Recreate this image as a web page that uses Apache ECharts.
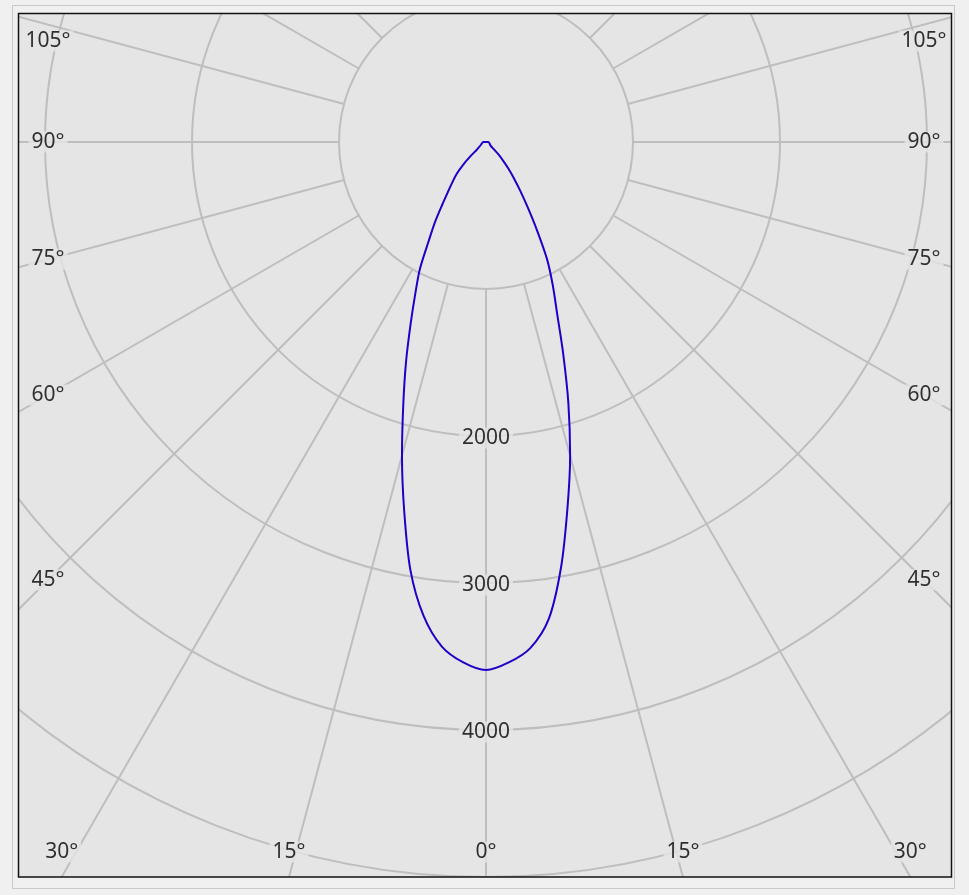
<!DOCTYPE html>
<html>
<head>
<meta charset="utf-8">
<script src="https://cdn.jsdelivr.net/npm/echarts@6/dist/echarts.min.js"></script>
<style>
  html, body { margin: 0; padding: 0; background: #f0f0f0; }
  #chart { width: 969px; height: 895px; }
</style>
</head>
<body>
<div id="chart"></div>
<script>
// ---- data ----
// gamma angles (deg from nadir)
const gammaAngles = [0, 2.5, 5, 7.5, 10, 12.5, 15, 17.5, 20, 22.5, 25, 27.5, 30, 32.5, 35, 37.5, 40, 42.5, 45, 47.5, 50, 55, 60, 70, 80, 90];
// intensity (cd) on the left half-plane
const leftIntensity = [3592, 3544, 3446, 3252, 2959, 2571, 2208, 1871, 1590, 1340, 1138, 973, 782, 646, 517, 422, 354, 299, 224, 143, 82, 54, 41, 31, 24, 20];
// intensity (cd) on the right half-plane
const rightIntensity = [3592, 3544, 3456, 3272, 2939, 2558, 2211, 1864, 1537, 1265, 1075, 900, 694, 530, 408, 313, 238, 170, 120, 70, 45, 35, 30, 25, 22, 20];
// tick labels
const angleTickLabels = [0, 15, 30, 45, 60, 75, 90, 105];
const radiusTickLabels = [2000, 3000, 4000];

// ---- layout ----
const W = 969, H = 895;
const CX = 486, CY = 142;
const R_MIN = 1000, R_MAX = 6000;
const PX0 = 147, PX1 = 882;
const PX_PER_UNIT = PX1 / R_MAX;
const BOX = { x0: 18, y0: 13, x1: 951, y1: 877 };
const LABEL_BAND = { bottomY: 852, topY: 41, sideDX: 438, minX: 53, maxX: 916 };
const PLOT_BG = '#e5e5e5';
const OUT_BG = '#f0f0f0';
const GRID = '#bebebe';
const FONT = 'Noto Sans';

// closed curve: right half (as 360 - gamma) from 90 to 0, left half from 0 to 90, back to the start
const curve = [];
for (let i = gammaAngles.length - 1; i >= 1; i--) curve.push([rightIntensity[i], 360 - gammaAngles[i]]);
for (let i = 0; i < gammaAngles.length; i++) curve.push([leftIntensity[i], gammaAngles[i]]);
curve.push(curve[0].slice());

// angle labels: near where each spoke leaves the frame, kept inside the label band
function labelPolar(a, side) {  // side: -1 left, +1 right
  const t = a * Math.PI / 180;
  let dx, dy;
  if (a <= 30) {
    dy = LABEL_BAND.bottomY - CY;
    const xAtFrame = CX + side * (BOX.y1 - CY) * Math.tan(t);
    dx = Math.min(LABEL_BAND.maxX, Math.max(LABEL_BAND.minX, xAtFrame)) - CX;
  } else {
    dx = side * LABEL_BAND.sideDX;
    dy = Math.max(LABEL_BAND.topY - CY, LABEL_BAND.sideDX / Math.tan(t));
  }
  const r = Math.hypot(dx, dy) / PX_PER_UNIT;
  let ang = Math.atan2(-dx, dy) * 180 / Math.PI;
  if (ang < 0) ang += 360;
  return [r, ang];
}
const angleLabelData = [];
angleTickLabels.forEach(a => {
  angleLabelData.push({ value: labelPolar(a, -1), name: a + '°' });
  if (a !== 0) angleLabelData.push({ value: labelPolar(a, 1), name: a + '°' });
});
const radiusLabelData = radiusTickLabels.map(v => ({ value: [v, 0], name: String(v) }));

const labelStyle = {
  show: true, position: 'inside', formatter: p => p.name,
  color: '#000', fontSize: 21, fontFamily: FONT,
  backgroundColor: PLOT_BG, padding: [0, 3]
};
const hidden = { axisLine: { show: false }, axisTick: { show: false }, axisLabel: { show: false } };

const chart = echarts.init(document.getElementById('chart'), null, { renderer: 'canvas', width: W, height: H });
chart.setOption({
  animation: false,
  backgroundColor: PLOT_BG,
  polar: [
    { center: [CX, CY], radius: [PX0, PX1] },   // grid (spokes start at the 1000 circle)
    { center: [CX, CY], radius: [0, PX1] }      // data
  ],
  angleAxis: [
    Object.assign({
      polarIndex: 0, type: 'value', min: 0, max: 360, interval: 15, startAngle: 270, clockwise: true,
      splitLine: { show: true, lineStyle: { color: GRID, width: 2 } }
    }, hidden),
    Object.assign({
      polarIndex: 1, type: 'value', min: 0, max: 360, interval: 15, startAngle: 270, clockwise: true,
      splitLine: { show: false }
    }, hidden)
  ],
  radiusAxis: [
    Object.assign({
      polarIndex: 0, type: 'value', min: R_MIN, max: R_MAX, interval: 1000,
      splitLine: { show: true, lineStyle: { color: GRID, width: 2 } }
    }, hidden),
    Object.assign({
      polarIndex: 1, type: 'value', min: 0, max: R_MAX, interval: 1000,
      splitLine: { show: false }
    }, hidden)
  ],
  series: [
    {
      type: 'line', coordinateSystem: 'polar', polarIndex: 1, data: curve, clip: false,
      showSymbol: false, smooth: 0.3, z: 5,
      lineStyle: { color: '#1e00c8', width: 2 }
    },
    {
      type: 'scatter', coordinateSystem: 'polar', polarIndex: 1, data: angleLabelData, clip: false,
      symbolSize: 1, itemStyle: { color: 'rgba(0,0,0,0)' }, label: labelStyle, z: 3
    },
    {
      type: 'scatter', coordinateSystem: 'polar', polarIndex: 1, data: radiusLabelData, clip: false,
      symbolSize: 1, itemStyle: { color: 'rgba(0,0,0,0)' },
      label: Object.assign({}, labelStyle, { offset: [0, 2] }), z: 3
    }
  ],
  graphic: [
    { type: 'rect', z: 100, shape: { x: 0, y: 0, width: W, height: BOX.y0 }, style: { fill: OUT_BG } },
    { type: 'rect', z: 100, shape: { x: 0, y: BOX.y1, width: W, height: H - BOX.y1 }, style: { fill: OUT_BG } },
    { type: 'rect', z: 100, shape: { x: 0, y: 0, width: BOX.x0, height: H }, style: { fill: OUT_BG } },
    { type: 'rect', z: 100, shape: { x: BOX.x1, y: 0, width: W - BOX.x1, height: H }, style: { fill: OUT_BG } },
    { type: 'rect', z: 101, shape: { x: 12.5, y: 5.5, width: 942, height: 883 }, style: { fill: null, stroke: '#c8c8c8', lineWidth: 1 } },
    { type: 'rect', z: 102, shape: { x: BOX.x0 + 0.5, y: BOX.y0 + 0.5, width: BOX.x1 - BOX.x0, height: BOX.y1 - BOX.y0 - 0.5 }, style: { fill: null, stroke: '#111', lineWidth: 1.5 } }
  ]
});
</script>
</body>
</html>
